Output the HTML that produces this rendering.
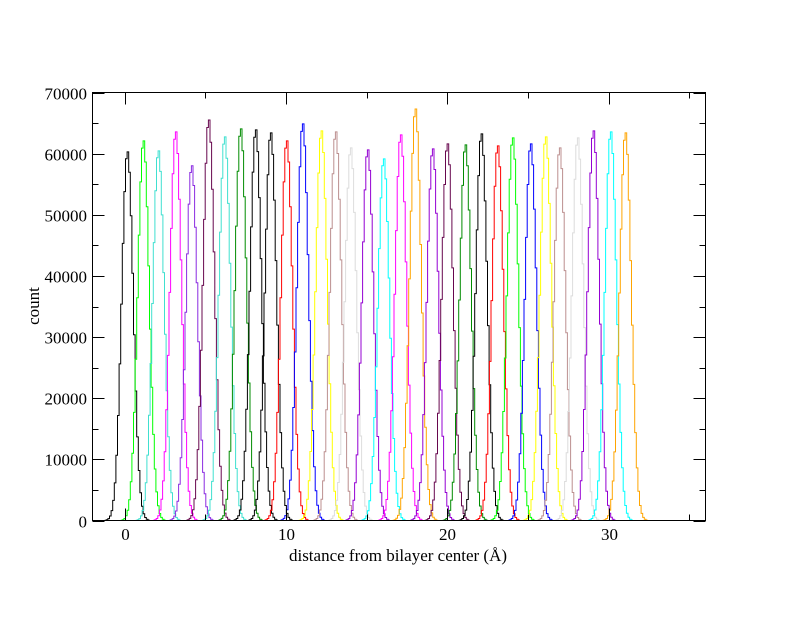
<!DOCTYPE html>
<html><head><meta charset="utf-8"><style>
html,body{margin:0;padding:0;background:#fff;}
text{font-family:"Liberation Serif",serif;font-size:17px;fill:#000;}
</style></head><body>
<svg id="s" width="792" height="612" xmlns="http://www.w3.org/2000/svg">
<rect width="792" height="612" fill="#fff"/>
<g id="curves"></g>
<g id="axes" stroke="#000" stroke-width="1" fill="none"></g>
<g id="labels"></g>
<text x="398" y="561" text-anchor="middle">distance from bilayer center (Å)</text>
<text transform="translate(39,306) rotate(-90)" text-anchor="middle">count</text>
</svg>
<script>
var L=92.5,R=705.5,T=92.5,B=520.5;
function X(v){return L+(v+2)*(R-L)/38;}
function Y(v){return B-v*(B-T)/70000;}
var peaks=[
[126.7,151,'#000000'],[142.7,140,'#00ff00'],[157.7,150,'#40e0d0'],[175,131,'#ff00ff'],
[191,165,'#8a2be2'],[208,119,'#67074e'],[224,136,'#40e0d0'],[240,128,'#008b00'],
[255,129,'#000000'],[270,132,'#000000'],[286,140,'#ff0000'],[302,123,'#0000ff'],
[320.7,130,'#ffff00'],[335,131,'#bc8f8f'],[350,147,'#dcdcdc'],[367,149,'#9400d3'],
[383,158,'#00ffff'],[400,134,'#ff00ff'],[414.7,108,'#ffa500'],[432,148,'#9400d3'],
[446.7,143,'#67074e'],[464.7,144,'#008b00'],[480.7,133,'#000000'],[497,145,'#ff0000'],
[512,137,'#00ff00'],[530,143,'#0000ff'],[545,136,'#ffff00'],[559,147,'#bc8f8f'],
[577,137,'#dcdcdc'],[592.7,130,'#9400d3'],[610,131,'#00ffff'],[624.7,132,'#ffa500']];
var ns='http://www.w3.org/2000/svg';
var cg=document.getElementById('curves');
peaks.forEach(function(p){
  var c=p[0],h=B-p[1],sig=5.8,pts=[];
  var step=1.6;
  for(var x=c-22;x<=c+22;x+=step){
    var y=B-h*Math.exp(-Math.pow(x-c,2)/(2*sig*sig));
    pts.push(x.toFixed(1)+','+y.toFixed(1));
    pts.push((x+step).toFixed(1)+','+y.toFixed(1));
  }
  var pl=document.createElementNS(ns,'polyline');
  pl.setAttribute('points',pts.join(' '));
  pl.setAttribute('fill','none');pl.setAttribute('stroke',p[2]);pl.setAttribute('stroke-width','1');
  cg.appendChild(pl);
});
var ag=document.getElementById('axes'),lg=document.getElementById('labels');
function line(x1,y1,x2,y2){var l=document.createElementNS(ns,'line');l.setAttribute('x1',x1);l.setAttribute('y1',y1);l.setAttribute('x2',x2);l.setAttribute('y2',y2);ag.appendChild(l);}
function txt(x,y,s,a){var t=document.createElementNS(ns,'text');t.setAttribute('x',x);t.setAttribute('y',y);t.setAttribute('text-anchor',a);t.textContent=s;lg.appendChild(t);}
var r=document.createElementNS(ns,'rect');r.setAttribute('x',L);r.setAttribute('y',T);r.setAttribute('width',R-L);r.setAttribute('height',B-T);ag.appendChild(r);
for(var v=0;v<=35;v+=5){var x=Math.round(X(v))+0.5,len=(v%10==0)?12:6;line(x,B,x,B-len);line(x,T,x,T+len);if(v%10==0)txt(x,540,String(v),'middle');}
for(var v=0;v<=70000;v+=5000){var y=Math.round(Y(v))+0.5,len=(v%10000==0)?12:6;line(L,y,L+len,y);line(R,y,R-len,y);if(v%10000==0)txt(87,y+6,String(v),'end');}
</script>
</body></html>
